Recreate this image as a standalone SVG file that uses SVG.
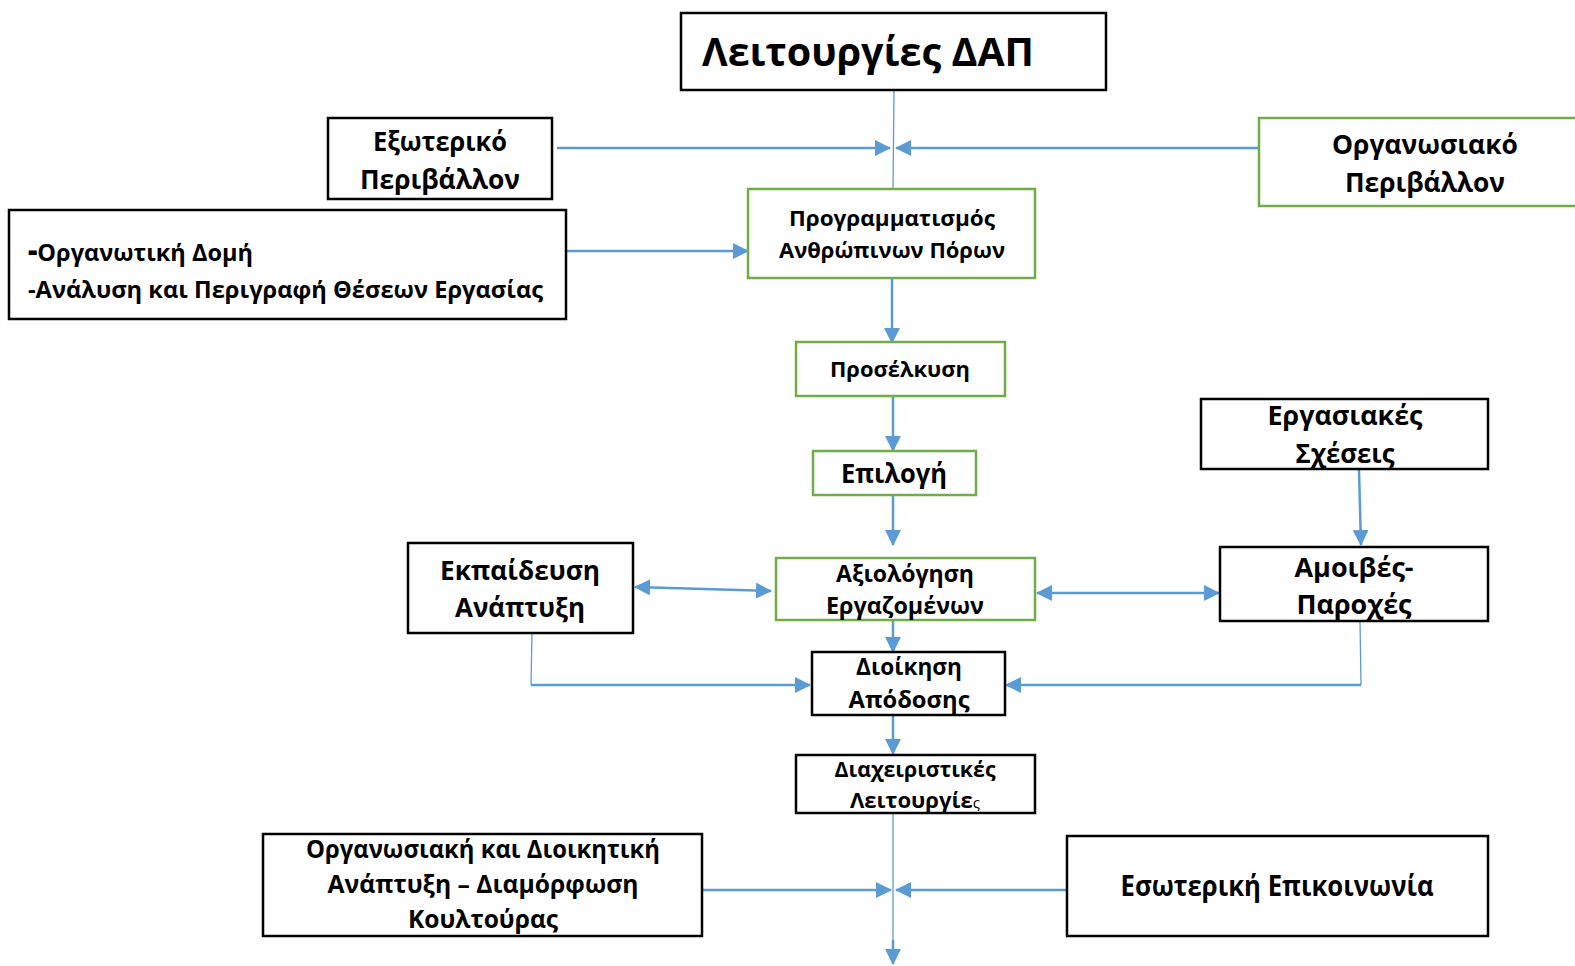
<svg xmlns="http://www.w3.org/2000/svg" width="1575" height="966" viewBox="0 0 1575 966">
<style>
.box{fill:#fff;stroke:#000;stroke-width:2.5}
.gbox{fill:#fff;stroke:#70AD47;stroke-width:2.5}
.t{font-family:"Open Sans","Noto Sans","DejaVu Sans",sans-serif;font-weight:700;fill:#000;text-anchor:middle}
.c{fill:none;stroke:#5B9BD5;stroke-width:2.5}
.thin{fill:none;stroke:#5B9BD5;stroke-width:1.3}
</style>
<defs>
<marker id="ah" markerUnits="userSpaceOnUse" markerWidth="16" markerHeight="16" refX="15" refY="8" orient="auto-start-reverse" viewBox="0 0 16 16">
<path d="M0,0 L16,8 L0,16 z" fill="#5B9BD5"/>
</marker>
</defs>
<rect width="1575" height="966" fill="#fff"/>

<g id="connectors">
<line class="thin" x1="894" y1="90" x2="893" y2="189"/>
<line class="c" x1="557" y1="148" x2="890" y2="148" marker-end="url(#ah)"/>
<line class="c" x1="1258" y1="148" x2="896" y2="148" marker-end="url(#ah)"/>
<line class="c" x1="566" y1="251" x2="748" y2="251" marker-end="url(#ah)"/>
<line class="c" x1="892" y1="278" x2="892" y2="343" marker-end="url(#ah)"/>
<line class="c" x1="893" y1="396" x2="893" y2="451" marker-end="url(#ah)"/>
<line class="c" x1="893" y1="495" x2="893" y2="545" marker-end="url(#ah)"/>
<line class="c" x1="635" y1="587" x2="771" y2="591" marker-start="url(#ah)" marker-end="url(#ah)"/>
<line class="c" x1="1037" y1="593" x2="1219" y2="593" marker-start="url(#ah)" marker-end="url(#ah)"/>
<line class="c" x1="1359" y1="470" x2="1361" y2="545" marker-end="url(#ah)"/>
<line class="c" x1="893" y1="620" x2="893" y2="652" marker-end="url(#ah)"/>
<polyline class="thin" points="532,634 531,685"/>
<line class="c" x1="531" y1="685" x2="810" y2="685" marker-end="url(#ah)"/>
<polyline class="thin" points="1360,621 1361,685"/>
<line class="c" x1="1361" y1="685" x2="1006" y2="685" marker-end="url(#ah)"/>
<line class="c" x1="893" y1="715" x2="893" y2="754" marker-end="url(#ah)"/>
<line class="thin" x1="893" y1="813" x2="893" y2="950"/>
<line class="c" x1="893" y1="940" x2="893" y2="964" marker-end="url(#ah)"/>
<line class="c" x1="703" y1="890" x2="891" y2="890" marker-end="url(#ah)"/>
<line class="c" x1="1067" y1="890" x2="896" y2="890" marker-end="url(#ah)"/>
</g>

<g id="n-title">
<rect class="box" x="681" y="13" width="425" height="77"/>
<text class="t" x="868" y="66" font-size="40" textLength="332" lengthAdjust="spacingAndGlyphs">Λειτουργίες ΔΑΠ</text>
</g>

<g id="n-external">
<rect class="box" x="328" y="118" width="224" height="81"/>
<text class="t" x="440" y="151" font-size="26" textLength="134" lengthAdjust="spacingAndGlyphs">Εξωτερικό</text>
<text class="t" x="440" y="189" font-size="26" textLength="160" lengthAdjust="spacingAndGlyphs">Περιβάλλον</text>
</g>

<g id="n-org-env">
<rect class="gbox" x="1259" y="118" width="320" height="88"/>
<text class="t" x="1425" y="154" font-size="26" textLength="186" lengthAdjust="spacingAndGlyphs">Οργανωσιακό</text>
<text class="t" x="1425" y="192" font-size="26" textLength="160" lengthAdjust="spacingAndGlyphs">Περιβάλλον</text>
</g>

<g id="n-structure">
<rect class="box" x="9" y="210" width="557" height="109"/>
<text class="t" x="28" y="261" font-size="24" style="text-anchor:start" textLength="225" lengthAdjust="spacingAndGlyphs"><tspan font-size="30" font-weight="900">-</tspan>Οργανωτική Δομή</text>
<text class="t" x="28" y="298" font-size="24" style="text-anchor:start" textLength="515" lengthAdjust="spacingAndGlyphs">-Ανάλυση και Περιγραφή Θέσεων Εργασίας</text>
</g>

<g id="n-planning">
<rect class="gbox" x="748" y="189" width="287" height="89"/>
<text class="t" x="892" y="226" font-size="22" textLength="206" lengthAdjust="spacingAndGlyphs">Προγραμματισμός</text>
<text class="t" x="892" y="258" font-size="22" textLength="226" lengthAdjust="spacingAndGlyphs">Ανθρώπινων Πόρων</text>
</g>

<g id="n-recruit">
<rect class="gbox" x="796" y="342" width="209" height="54"/>
<text class="t" x="900" y="377" font-size="22" textLength="140" lengthAdjust="spacingAndGlyphs">Προσέλκυση</text>
</g>

<g id="n-select">
<rect class="gbox" x="813" y="451" width="163" height="44"/>
<text class="t" x="894" y="483" font-size="26" textLength="106" lengthAdjust="spacingAndGlyphs">Επιλογή</text>
</g>

<g id="n-training">
<rect class="box" x="408" y="543" width="225" height="90"/>
<text class="t" x="520" y="580" font-size="27" textLength="160" lengthAdjust="spacingAndGlyphs">Εκπαίδευση</text>
<text class="t" x="520" y="617" font-size="27" textLength="130" lengthAdjust="spacingAndGlyphs">Ανάπτυξη</text>
</g>

<g id="n-appraisal">
<rect class="gbox" x="776" y="558" width="259" height="62"/>
<text class="t" x="905" y="582" font-size="24" textLength="138" lengthAdjust="spacingAndGlyphs">Αξιολόγηση</text>
<text class="t" x="905" y="614" font-size="24" textLength="158" lengthAdjust="spacingAndGlyphs">Εργαζομένων</text>
</g>

<g id="n-labour">
<rect class="box" x="1201" y="399" width="287" height="70"/>
<text class="t" x="1345" y="425" font-size="27" textLength="155" lengthAdjust="spacingAndGlyphs">Εργασιακές</text>
<text class="t" x="1345" y="463" font-size="27" textLength="99" lengthAdjust="spacingAndGlyphs">Σχέσεις</text>
</g>

<g id="n-pay">
<rect class="box" x="1220" y="547" width="268" height="74"/>
<text class="t" x="1354" y="577" font-size="27" textLength="119" lengthAdjust="spacingAndGlyphs">Αμοιβές-</text>
<text class="t" x="1354" y="614" font-size="27" textLength="115" lengthAdjust="spacingAndGlyphs">Παροχές</text>
</g>

<g id="n-performance">
<rect class="box" x="812" y="652" width="193" height="63"/>
<text class="t" x="909" y="675" font-size="24" textLength="106" lengthAdjust="spacingAndGlyphs">Διοίκηση</text>
<text class="t" x="909" y="708" font-size="24" textLength="121" lengthAdjust="spacingAndGlyphs">Απόδοσης</text>
</g>

<g id="n-admin">
<rect class="box" x="796" y="755" width="239" height="58"/>
<text class="t" x="915" y="777" font-size="22" textLength="161" lengthAdjust="spacingAndGlyphs">Διαχειριστικές</text>
<text class="t" x="915" y="808" font-size="22" textLength="130" lengthAdjust="spacingAndGlyphs">Λειτουργίε<tspan font-size="15" font-weight="400">ς</tspan></text>
</g>

<g id="n-culture">
<rect class="box" x="263" y="834" width="439" height="102"/>
<text class="t" x="483" y="858" font-size="25" textLength="354" lengthAdjust="spacingAndGlyphs">Οργανωσιακή και Διοικητική</text>
<text class="t" x="483" y="893" font-size="25" textLength="311" lengthAdjust="spacingAndGlyphs">Ανάπτυξη – Διαμόρφωση</text>
<text class="t" x="483" y="928" font-size="25" textLength="150" lengthAdjust="spacingAndGlyphs">Κουλτούρας</text>
</g>

<g id="n-communication">
<rect class="box" x="1067" y="836" width="421" height="100"/>
<text class="t" x="1277" y="896" font-size="28" textLength="313" lengthAdjust="spacingAndGlyphs">Εσωτερική Επικοινωνία</text>
</g>
</svg>
